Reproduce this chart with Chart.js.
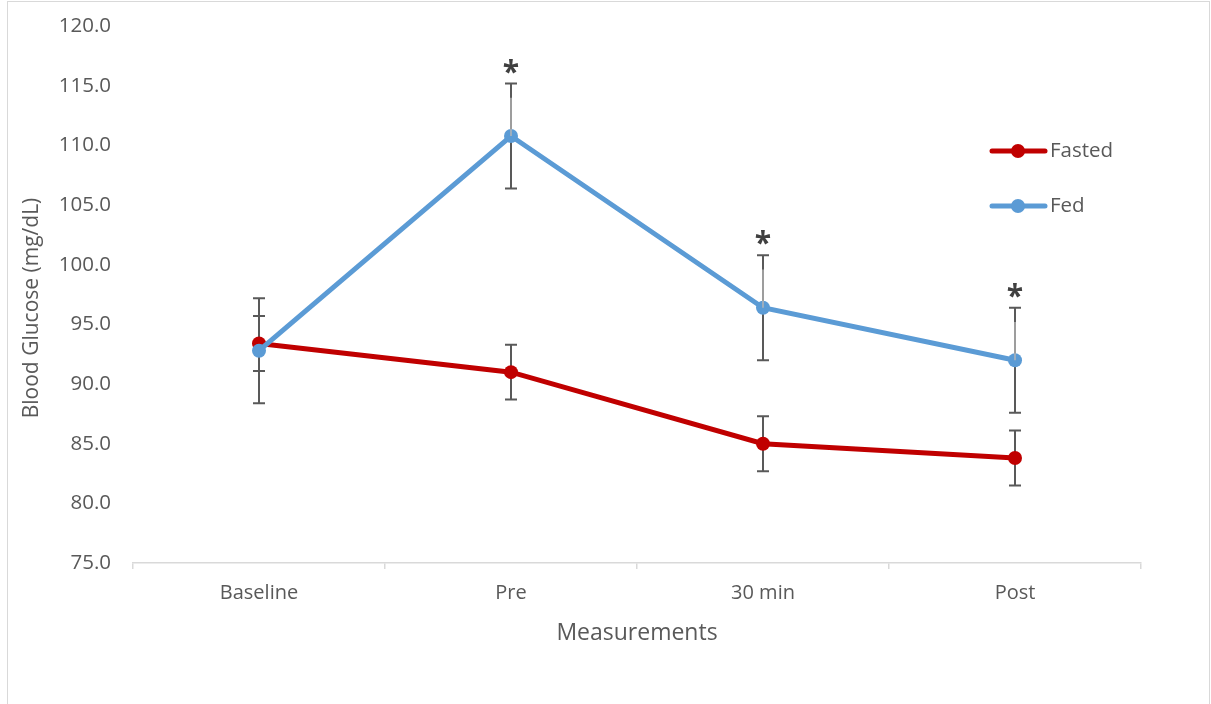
<!DOCTYPE html>
<html>
<head>
<meta charset="utf-8">
<script src="https://cdn.jsdelivr.net/npm/chart.js@4"></script>
<style>
  html, body { margin: 0; padding: 0; background: #ffffff; }
  #wrap { position: relative; width: 1211px; height: 704px; }
</style>
</head>
<body>
<div id="wrap"><canvas id="chart" width="1211" height="704"></canvas></div>
<script>
const labels = ['Baseline', 'Pre', '30 min', 'Post'];
const fasted = [93.4, 91.0, 85.0, 83.8];
const fastedErr = [2.3, 2.3, 2.3, 2.3];
const fed = [92.8, 110.8, 96.4, 92.0];
const fedErr = [4.4, 4.4, 4.4, 4.4];
// light grey inner bar seen on the starred points
const fedInner = [0, 3.2, 3.2, 3.2];
const fedStars = ['', '*', '*', '*'];
const yTitle = 'Blood Glucose (mg/dL)';

const RED = '#C00000';
const BLUE = '#5B9BD5';
const TXT = '#595959';
const FONT = "'Open Sans', sans-serif";

const errBars = [fastedErr, fedErr];

// border round the whole chart + y title (Excel puts it a bit below centre)
const frame = {
    id: 'frame',
    beforeDraw(chart) {
        const ctx = chart.ctx;
        ctx.save();
        ctx.strokeStyle = '#d9d9d9';
        ctx.lineWidth = 1;
        ctx.strokeRect(7.5, 1.5, 1202, 740);
        ctx.translate(32, 308);
        ctx.rotate(-Math.PI / 2);
        ctx.fillStyle = TXT;
        ctx.font = '21px ' + FONT;
        ctx.textAlign = 'center';
        ctx.textBaseline = 'middle';
        ctx.fillText(yTitle, 0, 0);
        ctx.restore();
    }
};

// error bars under the lines
const errorBars = {
    id: 'errorBars',
    beforeDatasetsDraw(chart) {
        const ctx = chart.ctx;
        const y = chart.scales.y;
        ctx.save();
        ctx.strokeStyle = '#595959';
        ctx.lineWidth = 2;
        chart.data.datasets.forEach((ds, i) => {
            const meta = chart.getDatasetMeta(i);
            meta.data.forEach((pt, j) => {
                const v = ds.data[j], e = errBars[i][j];
                const top = y.getPixelForValue(v + e);
                const bot = y.getPixelForValue(v - e);
                ctx.beginPath();
                ctx.moveTo(pt.x, top); ctx.lineTo(pt.x, bot);
                ctx.moveTo(pt.x - 6, top); ctx.lineTo(pt.x + 6, top);
                ctx.moveTo(pt.x - 6, bot); ctx.lineTo(pt.x + 6, bot);
                ctx.stroke();
            });
        });
        ctx.restore();
    },
    afterDatasetsDraw(chart) {
        const ctx = chart.ctx;
        const y = chart.scales.y;
        const meta = chart.getDatasetMeta(1);
        ctx.save();
        meta.data.forEach((pt, j) => {
            if (fedInner[j] > 0) {
                ctx.strokeStyle = '#b4b4b4';
                ctx.lineWidth = 1.5;
                ctx.beginPath();
                ctx.moveTo(pt.x, y.getPixelForValue(fed[j]));
                ctx.lineTo(pt.x, y.getPixelForValue(fed[j] + fedInner[j]));
                ctx.stroke();
            }
            if (fedStars[j]) {
                const capY = y.getPixelForValue(fed[j] + fedErr[j]);
                ctx.fillStyle = '#404040';
                ctx.font = 'bold 30px ' + FONT;
                ctx.textAlign = 'center';
                ctx.textBaseline = 'alphabetic';
                ctx.fillText(fedStars[j], pt.x, capY - 2);
            }
        });
        ctx.restore();
    }
};

// legend on the right
const sideLegend = {
    id: 'sideLegend',
    afterDraw(chart) {
        const ctx = chart.ctx;
        const items = [['Fasted', RED, 151], ['Fed', BLUE, 206]];
        ctx.save();
        items.forEach(([name, col, ly]) => {
            ctx.strokeStyle = col;
            ctx.lineWidth = 5;
            ctx.lineCap = 'round';
            ctx.beginPath();
            ctx.moveTo(992, ly); ctx.lineTo(1045, ly);
            ctx.stroke();
            ctx.fillStyle = col;
            ctx.beginPath();
            ctx.arc(1018, ly, 7, 0, Math.PI * 2);
            ctx.fill();
            ctx.fillStyle = TXT;
            ctx.font = '20.5px ' + FONT;
            ctx.textAlign = 'left';
            ctx.textBaseline = 'middle';
            ctx.fillText(name, 1050, ly);
        });
        ctx.restore();
    }
};

new Chart(document.getElementById('chart'), {
    type: 'line',
    data: {
        labels: labels,
        datasets: [
            {
                label: 'Fasted',
                data: fasted,
                borderColor: RED,
                backgroundColor: RED,
                borderWidth: 5,
                pointRadius: 7,
                pointBorderWidth: 0,
                pointBackgroundColor: RED,
                order: 1
            },
            {
                label: 'Fed',
                data: fed,
                borderColor: BLUE,
                backgroundColor: BLUE,
                borderWidth: 5,
                pointRadius: 7,
                pointBorderWidth: 0,
                pointBackgroundColor: BLUE,
                order: 0
            }
        ]
    },
    options: {
        responsive: false,
        devicePixelRatio: 1,
        animation: false,
        layout: { padding: { left: 0, right: 70, top: 24, bottom: 0 } },
        plugins: {
            legend: { display: false },
            tooltip: { enabled: false }
        },
        scales: {
            x: {
                type: 'category',
                offset: true,
                grid: {
                    offset: true,
                    drawOnChartArea: false,
                    drawTicks: true,
                    tickLength: 6,
                    color: '#d9d9d9',
                    lineWidth: 1.5
                },
                border: { display: true, color: '#d9d9d9', width: 1.5 },
                ticks: { color: TXT, font: { family: FONT, size: 20 }, padding: 12 },
                title: {
                    display: true,
                    text: 'Measurements',
                    color: TXT,
                    font: { family: FONT, size: 23 },
                    padding: { top: 0, bottom: 57 }
                },
                afterFit: (s) => { s.height = 141; }
            },
            y: {
                min: 75,
                max: 120,
                grid: { display: false },
                border: { display: false },
                ticks: {
                    stepSize: 5,
                    color: TXT,
                    font: { family: FONT, size: 20.5 },
                    padding: 14,
                    callback: (v) => v.toFixed(1)
                },
                afterFit: (s) => { s.width = 133; }
            }
        }
    },
    plugins: [frame, errorBars, sideLegend]
});
</script>
</body>
</html>
